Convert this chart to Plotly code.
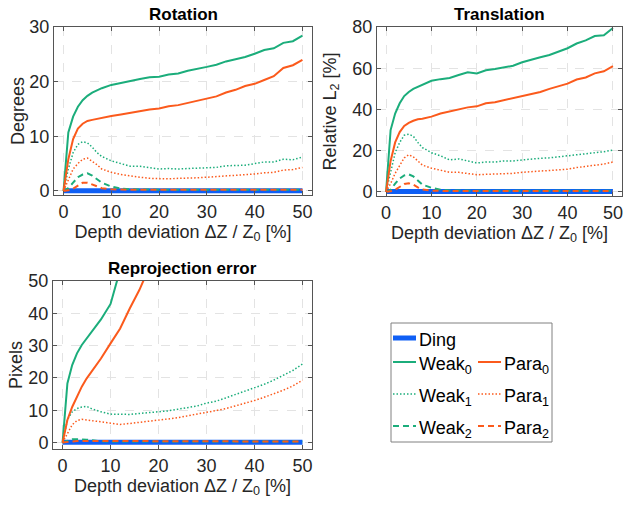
import plotly.graph_objects as go

# ---------------- data ----------------
x = [0, 1, 2, 3, 4, 5, 6, 7, 8, 10, 12, 14, 16, 18, 20, 22, 24, 26, 28, 30,
     32, 34, 36, 38, 40, 42, 44, 46, 48, 50]

rot_ding = [0.05] * 30
rot_weak0 = [0, 10.7, 13.6, 15.4, 16.6, 17.4, 18.0, 18.4, 18.8, 19.4, 19.8, 20.1, 20.5, 20.8, 20.9,
             21.3, 21.5, 22.0, 22.3, 22.7, 23.1, 23.7, 24.1, 24.5, 25.1, 25.8, 26.1, 27.1, 27.4, 28.4]
rot_para0 = [0, 5.8, 9.5, 11.4, 12.3, 12.8, 13.0, 13.2, 13.3, 13.7, 14.0, 14.3, 14.7, 14.9, 15.1,
             15.5, 15.7, 16.1, 16.5, 16.9, 17.3, 18.0, 18.5, 19.2, 19.6, 20.3, 21.0, 22.5, 23.0, 24.0]
rot_weak1 = [0, 4.0, 7.0, 8.5, 9.0, 8.8, 8.0, 7.0, 6.3, 5.5, 5.0, 4.5, 4.5, 4.2, 4.0,
             4.1, 4.0, 4.1, 4.2, 4.3, 4.3, 4.6, 4.7, 4.7, 5.0, 5.3, 5.3, 5.8, 5.7, 6.2]
rot_para1 = [0, 2.0, 4.0, 5.0, 5.8, 6.0, 5.4, 4.8, 4.0, 3.4, 3.0, 2.7, 2.5, 2.3, 2.2,
             2.2, 2.3, 2.3, 2.4, 2.5, 2.6, 2.7, 2.8, 2.9, 3.1, 3.3, 3.4, 3.8, 3.9, 4.3]
rot_weak2 = [0, 0.5, 1.5, 2.5, 3.0, 3.2, 2.8, 2.2, 1.5, 0.8, 0.4, 0.3, 0.25, 0.2, 0.2,
             0.2, 0.2, 0.2, 0.2, 0.2, 0.2, 0.2, 0.2, 0.2, 0.2, 0.2, 0.2, 0.2, 0.2, 0.2]
rot_para2 = [0, 0.1, 0.4, 1.0, 1.5, 1.5, 1.2, 0.8, 0.5, 0.3, 0.2, 0.2, 0.2, 0.2, 0.2,
             0.2, 0.2, 0.2, 0.2, 0.2, 0.2, 0.2, 0.2, 0.2, 0.2, 0.2, 0.2, 0.2, 0.2, 0.2]

tr_ding = [0.2] * 30
tr_weak0 = [0, 30, 38, 43, 46.5, 48.5, 50, 51, 51.8, 53.9, 54.7, 55.3, 56.7, 58, 57.5,
            59, 59.6, 60.4, 61.2, 62.9, 64.2, 65.3, 66.4, 68.2, 69.7, 72.0, 73.5, 75.6, 76.0, 79.5]
tr_para0 = [0, 15, 24, 29, 32, 33.5, 34.5, 35.2, 35.5, 36.5, 38, 39, 40, 41, 41.5,
            43, 43.5, 44.5, 45.5, 46.7, 47.5, 48.5, 50, 51.3, 52.5, 54.5, 55.5, 57.5, 58.5, 61]
tr_weak1 = [0, 10, 19, 24, 27.5, 28, 27, 24, 21.5, 19, 17.5, 15.5, 16, 15, 14,
            14.5, 14.5, 15, 15, 15.5, 16, 16.3, 16.5, 17, 17.5, 18, 18.3, 19, 19.5, 20.3]
tr_para1 = [0, 4, 9, 13, 16.5, 18, 17, 15, 13, 11.5, 10.5, 9.5, 9.5, 9, 8.3,
            8.5, 8.6, 8.8, 9, 9.5, 9.8, 10, 10.5, 10.8, 11, 11.8, 12.3, 12.8, 13.5, 14.5]
tr_weak2 = [0, 1, 4, 6.5, 8, 8.5, 7.5, 5.5, 3.5, 2, 1, 0.7, 0.6, 0.5, 0.5,
            0.5, 0.5, 0.5, 0.5, 0.5, 0.5, 0.5, 0.5, 0.5, 0.5, 0.5, 0.5, 0.5, 0.5, 0.5]
tr_para2 = [0, 0.3, 1, 2.5, 3.8, 4.2, 3.5, 2.2, 1.2, 0.6, 0.4, 0.4, 0.4, 0.4, 0.4,
            0.4, 0.4, 0.4, 0.4, 0.4, 0.4, 0.4, 0.4, 0.4, 0.4, 0.4, 0.4, 0.4, 0.4, 0.4]

rep_ding = [0.1] * 30
rep_weak0 = [0, 18.3, 24, 27.6, 30.2, 32.2, 34.3, 36, 38.1, 42.9, 53.5] + [None] * 19
rep_para0 = [0, 7, 11, 14.2, 17.3, 19.8, 21.9, 24, 26, 30.7, 35.3, 41.5, 47.2, 54] + [None] * 16
rep_weak1 = [0, 7, 9.5, 10.5, 11, 11.2, 10.5, 10, 9.5, 8.8, 8.8, 8.7, 9, 9.2, 9.5,
             9.8, 10.3, 10.8, 11.3, 12.2, 12.8, 13.8, 14.8, 15.8, 16.8, 18, 19.3, 20.8, 22.3, 24.3]
rep_para1 = [0, 3, 5.5, 6.8, 7.2, 7, 6.8, 6.5, 6.2, 5.8, 5.6, 5.9, 6.2, 6.5, 6.8,
             7.3, 7.7, 8.2, 8.7, 9.3, 9.9, 10.5, 11.3, 12, 13, 14, 15, 16.2, 17.5, 19.3]
rep_weak2 = [0, 0.5, 1, 1, 1, 0.9, 0.7, 0.5, 0.4, 0.3, 0.3, 0.3, 0.3, 0.3, 0.3,
             0.3, 0.3, 0.3, 0.3, 0.3, 0.3, 0.3, 0.3, 0.3, 0.3, 0.3, 0.3, 0.3, 0.3, 0.3]
rep_para2 = [0, 0.2, 0.4, 0.5, 0.5, 0.5, 0.4, 0.4, 0.3, 0.3, 0.3, 0.3, 0.3, 0.3, 0.3,
             0.3, 0.3, 0.3, 0.3, 0.3, 0.3, 0.3, 0.3, 0.3, 0.3, 0.3, 0.3, 0.3, 0.3, 0.3]

titles = ["Rotation", "Translation", "Reprojection error"]
ylabels = ["Degrees", "Relative L<sub>2</sub> [%]", "Pixels"]
xlabel = "Depth deviation \u0394Z / Z<sub>0</sub> [%]"
xticks = [0, 10, 20, 30, 40, 50]
series_names = ["Ding", "Weak<sub>0</sub>", "Weak<sub>1</sub>", "Weak<sub>2</sub>",
                "Para<sub>0</sub>", "Para<sub>1</sub>", "Para<sub>2</sub>"]

GREEN = "#1bad7b"
ORANGE = "#fb5a1c"
BLUE = "#0f5ff5"
FONT = "Liberation Sans"
FS = 18
W, H = 628, 505
DOT = "1.5px,2px"
DASH = "6px,4px"

# style per series: color, dash, width
styles = [
    (BLUE, "solid", 5),
    (GREEN, "solid", 2), (GREEN, DOT, 1.5), (GREEN, DASH, 2),
    (ORANGE, "solid", 2), (ORANGE, DOT, 1.5), (ORANGE, DASH, 2),
]

panels = [
    (rot_ding, rot_weak0, rot_weak1, rot_weak2, rot_para0, rot_para1, rot_para2),
    (tr_ding, tr_weak0, tr_weak1, tr_weak2, tr_para0, tr_para1, tr_para2),
    (rep_ding, rep_weak0, rep_weak1, rep_weak2, rep_para0, rep_para1, rep_para2),
]
yranges = [[-0.75, 30], [-2, 80], [-2, 50]]
yticks = [[0, 10, 20, 30], [0, 20, 40, 60, 80], [0, 10, 20, 30, 40, 50]]
ystandoff = [0, 11, 1]

# pixel boxes (left, right, top, bottom)
boxes = [(54, 312, 27, 195), (377, 622, 27, 196), (53, 312, 281, 449)]

fig = go.Figure()
for i, data in enumerate(panels):
    xa = "x" if i == 0 else f"x{i+1}"
    ya = "y" if i == 0 else f"y{i+1}"
    for name, ys, (col, dash, wd) in zip(series_names, data, styles):
        fig.add_trace(go.Scatter(
            x=x, y=ys, mode="lines", name=name,
            line=dict(color=col, dash=dash, width=wd),
            xaxis=xa, yaxis=ya, showlegend=False, connectgaps=False,
            hoverinfo="skip",
        ))

axis_common = dict(
    showline=True, linecolor="#555555", linewidth=1, mirror="ticks",
    ticks="inside", ticklen=4, tickcolor="#555555",
    showgrid=True, gridcolor="#e3e3e3", griddash="dash", gridwidth=1,
    zeroline=False, automargin=False,
    tickfont=dict(family=FONT, size=FS, color="#262626"),
)

layout = dict(
    width=W, height=H, margin=dict(l=0, r=0, t=0, b=0),
    paper_bgcolor="white", plot_bgcolor="white",
    font=dict(family=FONT, size=FS, color="#262626"),
    showlegend=False,
)
annotations = []
shapes = []
for i, (l, r, t, b) in enumerate(boxes):
    suf = "" if i == 0 else str(i + 1)
    layout["xaxis" + suf] = dict(
        axis_common, domain=[l / W, r / W], range=[-2, 52], tickvals=xticks,
        anchor="y" + suf,
        title=dict(text=xlabel, font=dict(family=FONT, size=FS, color="#262626"), standoff=4),
    )
    layout["yaxis" + suf] = dict(
        axis_common, domain=[1 - b / H, 1 - t / H], range=yranges[i], tickvals=yticks[i],
        anchor="x" + suf,
        title=dict(text=ylabels[i], font=dict(family=FONT, size=FS, color="#262626"),
                   standoff=ystandoff[i]),
    )
    annotations.append(dict(
        text="<b>" + titles[i] + "</b>", x=(l + r) / 2 / W, y=1 - (t - 13) / H,
        xref="paper", yref="paper", xanchor="center", yanchor="middle", showarrow=False,
        font=dict(family=FONT, size=17, color="black"),
    ))

# ---- legend (box, line samples and labels) ----
shapes.append(dict(
    type="rect", xref="paper", yref="paper",
    x0=391 / W, x1=552 / W, y0=1 - 442 / H, y1=1 - 323 / H,
    line=dict(color="#808080", width=1), fillcolor="rgba(0,0,0,0)", layer="above",
))
# (series index, sample x start, row y) in pixels
leg_pos = [(0, 393, 338), (1, 393, 362), (2, 393, 394), (3, 393, 426),
           (4, 478, 362), (5, 478, 394), (6, 478, 426)]
for idx, lx, ly in leg_pos:
    col, dash, wd = styles[idx]
    shapes.append(dict(
        type="line", xref="paper", yref="paper",
        x0=lx / W, x1=(lx + 23) / W, y0=1 - ly / H, y1=1 - ly / H,
        line=dict(color=col, dash=dash, width=wd),
    ))
    sub = "<sub>" in series_names[idx]
    annotations.append(dict(
        text=series_names[idx], x=(lx + 24) / W, y=1 - (ly - 10) / H,
        xref="paper", yref="paper", xanchor="left", yanchor="top", showarrow=False,
        font=dict(family=FONT, size=FS, color="black"),
    ))

layout["annotations"] = annotations
layout["shapes"] = shapes

fig.update_layout(**layout)
fig.write_html("out.html", config={"displayModeBar": False},
               post_script="document.body.style.margin='0';")
